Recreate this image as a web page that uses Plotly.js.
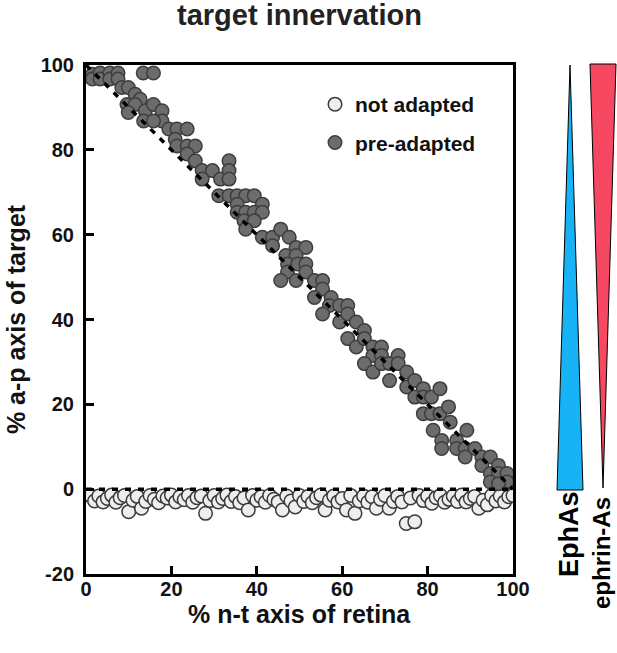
<!DOCTYPE html>
<html>
<head>
<meta charset="utf-8">
<script src="https://cdn.plot.ly/plotly-3.0.1.min.js"></script>
<style>html,body{margin:0;padding:0;background:#fff;}#chart{width:617px;height:653px;}</style>
</head>
<body>
<div id="chart"></div>
<script>
// ---- data ----
const notAdaptedX = [1,2,3,4,5,6,7,8,9,10,11,12,13,14,15,16,17,18,19,20,21,22,23,24,25,26,27,28,29,30,31,32,33,34,35,36,37,38,39,40,41,42,43,44,45,46,47,48,49,50,51,52,53,54,55,56,57,58,59,60,61,62,63,64,65,66,67,68,69,70,71,72,73,74,75,76,77,78,79,80,81,82,83,84,85,86,87,88,89,90,91,92,93,94,95,96,97,98,99,100];
const notAdaptedY = [-1.5,-2.8,-1.6,-3.0,-2.2,-1.4,-3.1,-2.0,-1.5,-5.3,-2.6,-1.7,-4.5,-2.9,-1.5,-2.4,-3.2,-1.6,-2.1,-1.4,-3.0,-1.8,-2.5,-1.5,-3.1,-2.0,-1.6,-5.7,-2.7,-1.5,-3.0,-2.2,-1.4,-2.9,-1.7,-3.2,-2.1,-4.9,-1.5,-2.6,-1.8,-3.1,-1.5,-2.4,-3.0,-4.9,-1.6,-2.8,-4.2,-1.5,-2.9,-1.7,-3.2,-2.0,-1.4,-4.9,-2.6,-1.6,-3.0,-2.2,-4.9,-1.5,-5.7,-2.8,-1.6,-3.1,-1.8,-4.5,-2.4,-1.5,-4.5,-2.9,-1.7,-3.0,-8.1,-2.1,-7.7,-1.5,-2.7,-1.6,-3.3,-2.0,-1.5,-3.1,-2.4,-1.6,-2.9,-1.4,-3.0,-2.2,-1.7,-4.5,-2.6,-3.7,-1.5,-2.8,-1.6,-3.0,-1.8,-1.5];

const preAdaptedX = [1.5,1.5,3.3,3.3,5.6,5.6,7.5,7.5,8.4,9.9,11.5,12.7,9.6,11.5,9.9,13.4,15.8,13.9,15.8,17.8,17.8,13.5,15.8,19.4,21.3,23.7,20.9,21.3,23.7,25.6,23.7,25.6,27.2,29.6,31.5,27.2,33.5,33.5,33.5,31.1,33.5,35.4,37.4,39.4,35.4,41.3,35.4,37.4,39.4,41.3,37.0,39.4,37.4,41.3,43.7,45.6,47.6,43.7,49.2,51.5,46.8,49.2,47.2,49.6,51.5,47.2,51.5,45.6,49.2,53.5,55.4,55.4,53.5,57.4,57.0,59.4,61.3,55.4,59.4,61.3,63.3,65.2,61.3,63.3,65.2,67.2,69.2,67.2,69.2,65.2,67.2,69.2,71.1,73.1,71.1,73.1,75.1,75.1,77.0,79.0,77.0,79.0,80.9,82.9,79.0,80.9,82.9,84.9,81.3,83.3,83.3,85.3,86.8,89.2,86.8,88.8,91.1,88.8,92.7,94.7,92.7,96.6,94.7,96.6,98.6,98.6,94.7,96.6];
const preAdaptedY = [97.8,96.7,98.1,96.7,98.1,96.7,98.1,96.7,94.7,94.7,93.1,91.9,90.7,90.7,88.8,98.1,98.1,89.2,90.7,89.2,86.8,86.8,86.8,84.9,84.9,84.9,82.5,80.9,80.9,80.9,79.0,77.4,75.1,75.1,73.1,73.1,77.4,75.1,73.1,69.2,69.2,69.2,69.2,69.2,67.2,67.2,65.3,65.3,65.3,65.3,63.3,63.3,61.3,59.4,59.4,61.3,59.4,57.4,57.0,57.0,55.1,55.1,53.1,53.1,53.1,51.2,51.2,49.2,49.2,49.2,49.2,47.2,45.2,45.2,43.3,43.3,43.3,41.3,39.4,41.3,39.4,37.4,35.5,33.5,35.5,33.5,33.5,31.5,31.5,29.6,27.6,29.6,29.6,31.5,25.6,29.6,27.6,24.1,25.6,23.7,21.7,21.7,21.7,23.7,17.8,17.8,17.8,19.4,13.9,11.5,9.6,15.8,11.5,13.9,9.6,9.6,9.6,7.6,7.6,7.6,5.6,5.6,3.7,3.7,3.7,1.7,1.7,1.3];

const fitPreX = [0, 100];
const fitPreY = [100, 0];
const fitNotX = [0, 100];
const fitNotY = [0, 0];

const xTicks = [0, 20, 40, 60, 80, 100];
const yTicks = [-20, 0, 20, 40, 60, 80, 100];
const yTickText = ['-20', '0', '20', '40', '60', '80', '100'];

const xAxisTitle = '% n-t axis of retina';
const yAxisTitle = '% a-p axis of target';
const gradientLabels = ['EphAs', 'ephrin-As'];

// ---- chart ----
const FONT = 'Arial, "Liberation Sans", Helvetica, sans-serif';

const traces = [
  {
    x: notAdaptedX, y: notAdaptedY, type: 'scatter', mode: 'markers',
    name: 'not adapted', legendgroup: 'a',
    marker: {size: 13.5, color: '#eeeeee', line: {color: '#3a3a3a', width: 1.5}}
  },
  {
    x: preAdaptedX, y: preAdaptedY, type: 'scatter', mode: 'markers',
    name: 'pre-adapted', legendgroup: 'b',
    marker: {size: 13.5, color: '#6c6c6c', line: {color: '#3e3e3e', width: 1.5}}
  },
  {
    x: fitPreX, y: fitPreY, type: 'scatter', mode: 'lines', showlegend: false,
    line: {color: '#000', width: 3.5, dash: '6px,7px'}, hoverinfo: 'skip'
  },
  {
    x: fitNotX, y: fitNotY, type: 'scatter', mode: 'lines', showlegend: false,
    line: {color: '#000', width: 3.5, dash: '6px,7px'}, hoverinfo: 'skip'
  }
];

const L = 86, R = 513, T = 65, B = 574, W = 617, H = 653;
const px = v => (v - L) / (R - L);
const py = v => (B - v) / (B - T);

const layout = {
  width: W, height: H,
  margin: {l: L, r: W - R, t: T, b: H - B, pad: 0},
  paper_bgcolor: '#fff', plot_bgcolor: '#fff',
  font: {family: FONT, color: '#000'},
  title: {
    text: 'target innervation',
    font: {family: FONT, size: 29, weight: 'bold', color: '#222'},
    x: 0.5, xref: 'paper', xanchor: 'center', y: 1 - 15 / H, yanchor: 'middle', yref: 'container'
  },
  xaxis: {
    range: [0, 100], tickvals: xTicks, ticks: 'inside', ticklen: 8, tickwidth: 3, tickcolor: '#000',
    showline: true, linewidth: 3, linecolor: '#000', mirror: true, showgrid: false, zeroline: false,
    tickfont: {family: FONT, size: 20, weight: 'bold', color: '#111'},
    ticklabelstandoff: -5
  },
  yaxis: {
    range: [-20, 100], tickvals: yTicks, ticktext: yTickText, ticks: 'inside', ticklen: 8, tickwidth: 3, tickcolor: '#000',
    showline: true, linewidth: 3, linecolor: '#000', mirror: true, showgrid: false, zeroline: false,
    tickfont: {family: FONT, size: 20, weight: 'bold', color: '#111'},
    ticklabelstandoff: 5,
    title: {text: yAxisTitle, font: {family: FONT, size: 25, weight: 'bold', color: '#111'}, standoff: 8}
  },
  showlegend: true,
  legend: {
    x: px(315), y: py(84), xanchor: 'left', yanchor: 'top',
    bgcolor: 'rgba(0,0,0,0)', borderwidth: 0,
    font: {family: FONT, size: 21, weight: 'bold', color: '#111'},
    traceorder: 'grouped', tracegroupgap: 8, itemclick: false
  },
  shapes: [
    {type: 'path', xref: 'paper', yref: 'paper',
     path: `M ${px(570)} ${py(65)} L ${px(583)} ${py(490)} L ${px(557)} ${py(490)} Z`,
     fillcolor: '#18b2f6', line: {color: '#000', width: 1}},
    {type: 'path', xref: 'paper', yref: 'paper',
     path: `M ${px(590)} ${py(64)} L ${px(616)} ${py(64)} L ${px(603)} ${py(488)} Z`,
     fillcolor: '#f74862', line: {color: '#000', width: 1}}
  ],
  annotations: [
    {text: xAxisTitle, xref: 'paper', yref: 'paper', x: 0.5, y: py(614),
     xanchor: 'center', yanchor: 'middle', showarrow: false,
     font: {family: FONT, size: 25, weight: 'bold', color: '#111'}},
    {text: gradientLabels[0], xref: 'paper', yref: 'paper', x: px(569), y: py(534),
     xanchor: 'center', yanchor: 'middle', textangle: -90, showarrow: false,
     font: {family: FONT, size: 27, weight: 'bold', color: '#000'}},
    {text: gradientLabels[1], xref: 'paper', yref: 'paper', x: px(601), y: py(553),
     xanchor: 'center', yanchor: 'middle', textangle: -90, showarrow: false,
     font: {family: FONT, size: 24, weight: 'bold', color: '#000'}}
  ]
};

Plotly.newPlot('chart', traces, layout, {staticPlot: true, displayModeBar: false});
</script>
</body>
</html>
